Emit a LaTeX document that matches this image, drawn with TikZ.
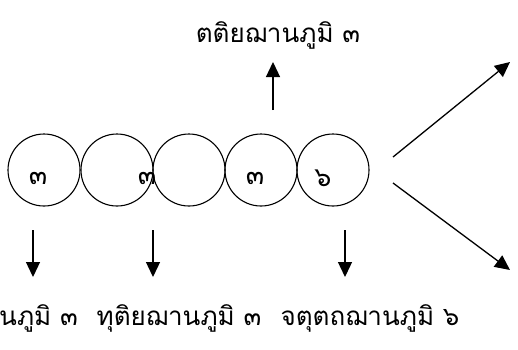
\documentclass[tikz,border=0pt]{standalone}
\usepackage{fontspec}
\newfontfamily\thaifont[Script=Thai]{Loma}
\usetikzlibrary{arrows.meta}

\tikzset{
  ring/.style={circle, draw, line width=1.1pt, minimum size=72pt, inner sep=0pt},
  digit/.style={font=\thaifont\fontsize{27}{27}\selectfont, inner sep=0pt},
  thlabel/.style={font=\thaifont\fontsize{26}{26}\selectfont, inner sep=0pt},
  arrow/.style={line width=1.3pt, -{Triangle[width=14pt,length=15pt]}}
}

\begin{document}
\begin{tikzpicture}[x=1pt, y=-1pt]
    \useasboundingbox (0,0) rectangle (518,349);

    % Chain of circles
    \node[ring] (c1) at (44,170) {};
    \node[ring] (c2) at (117,170) {};
    \node[ring] (c3) at (189,170) {};
    \node[ring] (c4) at (261,170) {};
    \node[ring] (c5) at (333,170) {};

    % Numbers inside the circles
    \node[digit] (d1) at (38,178) {๓};
    \node[digit] (d2) at (147,178) {๓};
    \node[digit] (d4) at (255,178) {๓};
    \node[digit] (d5) at (323,178) {๖};

    % Labels
    \node[thlabel] (third) at (278,35) {ตติยฌานภูมิ ๓};
    \node[thlabel, anchor=east] (first) at (78,318) {ปฐมฌานภูมิ ๓};
    \node[thlabel] (second) at (179,318) {ทุติยฌานภูมิ ๓};
    \node[thlabel] (fourth) at (370,318) {จตุตถฌานภูมิ ๖};

    % Arrow end points
    \coordinate (a1) at (33,230);  \coordinate (b1) at (33,277);
    \coordinate (a2) at (153,230); \coordinate (b2) at (153,277);
    \coordinate (a3) at (345,230); \coordinate (b3) at (345,277);
    \coordinate (a4) at (273,110); \coordinate (b4) at (273,62);
    \coordinate (a5) at (393,157); \coordinate (b5) at (510,62);
    \coordinate (a6) at (393,183); \coordinate (b6) at (510,270);

    % Arrows
    \draw[arrow] (a1) -- (b1);
    \draw[arrow] (a2) -- (b2);
    \draw[arrow] (a3) -- (b3);
    \draw[arrow] (a4) -- (b4);
    \draw[arrow] (a5) -- (b5);
    \draw[arrow] (a6) -- (b6);
\end{tikzpicture}
\end{document}
